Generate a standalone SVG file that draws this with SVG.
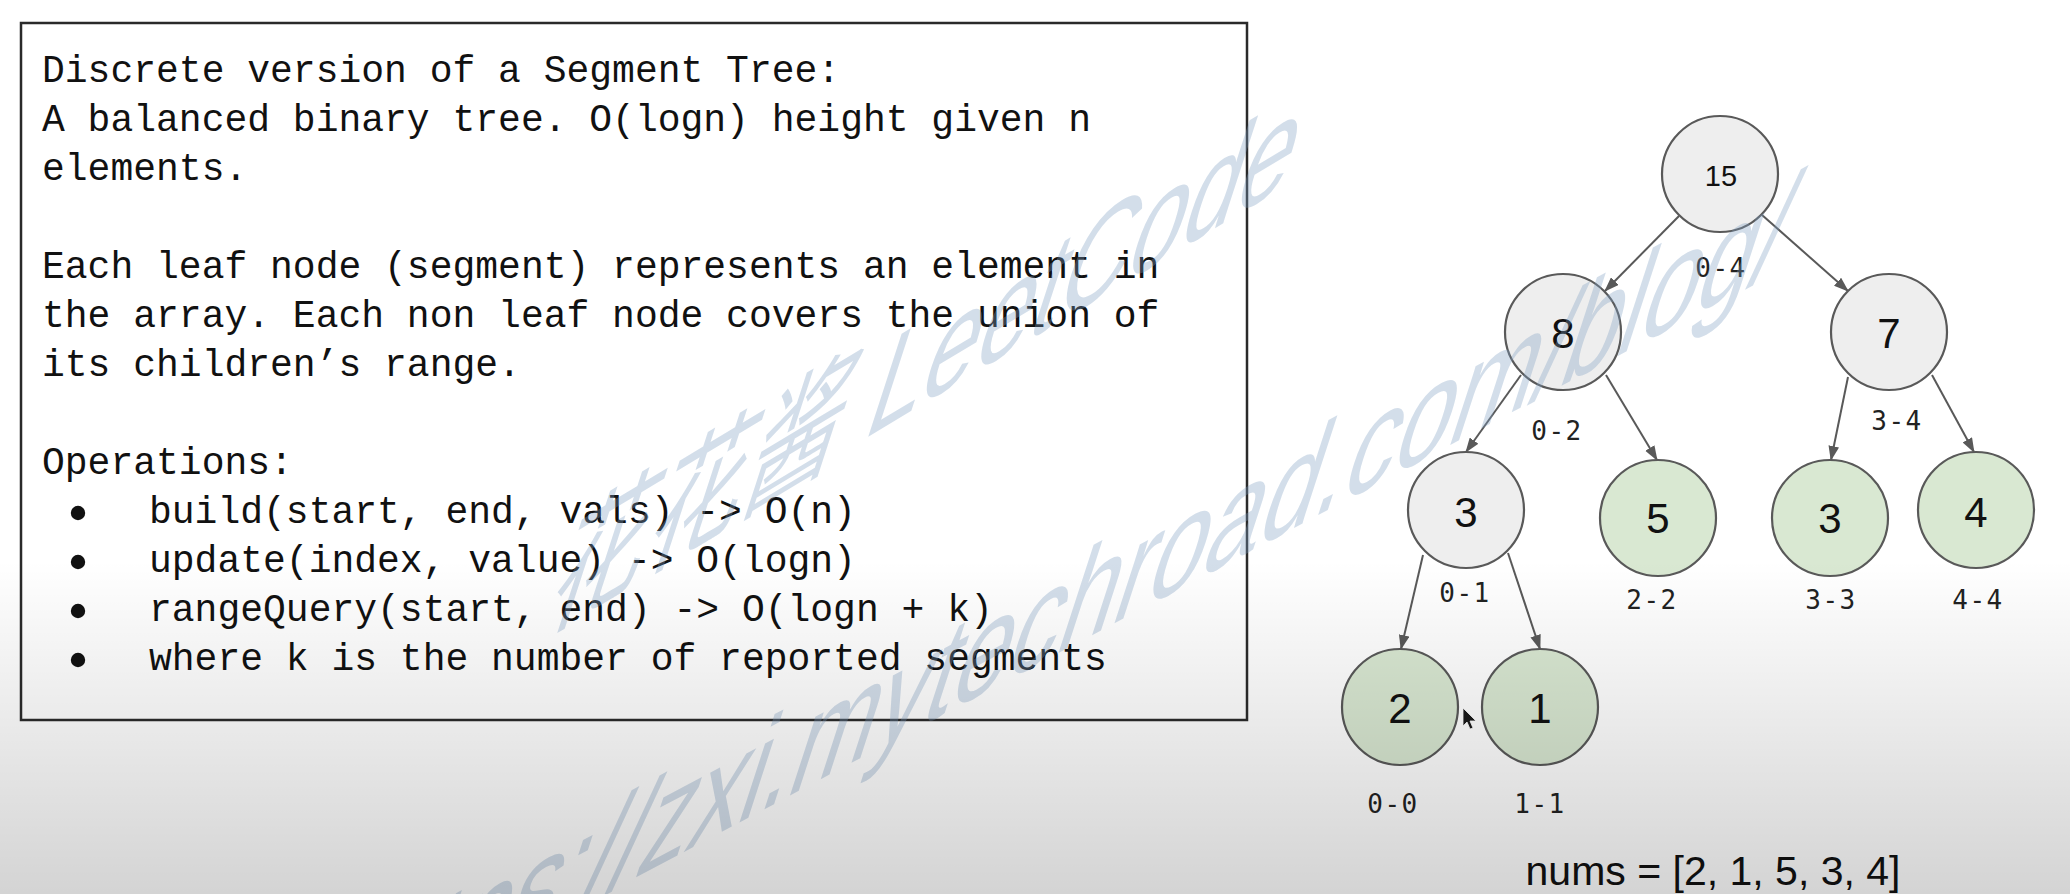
<svg xmlns="http://www.w3.org/2000/svg" width="2070" height="894" viewBox="0 0 2070 894">
  <style>
    .body { font-family: "Liberation Mono", "DejaVu Sans Mono", monospace; font-size: 38px; fill: #111; }
    .node circle { stroke: #595959; stroke-width: 2.2; }
    .inner { fill: #eeeeee; }
    .leaf { fill: #d9e8d2; }
    .num { font-family: "Liberation Sans", Arial, sans-serif; font-size: 42px; fill: #111; text-anchor: middle; }
    .range { font-family: "DejaVu Sans Mono", "Liberation Mono", monospace; font-size: 26px; fill: #222; text-anchor: middle; letter-spacing: 1.5px; }
    .edge { stroke: #595959; stroke-width: 2; fill: none; marker-end: url(#arrow); }
    .wm { font-family: "Liberation Sans", "Noto Sans CJK SC", sans-serif; font-size: 114px; fill: #7f9fc0; fill-opacity: 0.34; }
  </style>
  <defs>
    <marker id="arrow" viewBox="0 0 14 10" refX="13" refY="5" markerWidth="15" markerHeight="11" markerUnits="userSpaceOnUse" orient="auto">
      <path d="M0,0 L14,5 L0,10 Z" fill="#595959"/>
    </marker>
    <linearGradient id="shade" gradientUnits="userSpaceOnUse" x1="0" y1="560" x2="0" y2="894">
      <stop offset="0" stop-color="#000" stop-opacity="0"/>
      <stop offset="1" stop-color="#000" stop-opacity="0.17"/>
    </linearGradient>
  </defs>

  <rect width="2070" height="894" fill="#ffffff"/>

  <!-- description panel -->
  <g id="description">
    <rect x="21" y="23" width="1226" height="697" fill="#ffffff" stroke="#2a2a2a" stroke-width="2.5"/>
    <text class="body" x="42" y="82">Discrete version of a Segment Tree:</text>
    <text class="body" x="42" y="131">A balanced binary tree. O(logn) height given n</text>
    <text class="body" x="42" y="180">elements.</text>
    <text class="body" x="42" y="278">Each leaf node (segment) represents an element in</text>
    <text class="body" x="42" y="327">the array. Each non leaf node covers the union of</text>
    <text class="body" x="42" y="376">its children’s range.</text>
    <text class="body" x="42" y="474">Operations:</text>
    <g fill="#111">
      <circle cx="78" cy="513" r="7.2"/>
      <circle cx="78" cy="562" r="7.2"/>
      <circle cx="78" cy="611" r="7.2"/>
      <circle cx="78" cy="660" r="7.2"/>
    </g>
    <text class="body" x="149" y="523">build(start, end, vals) -&gt; O(n)</text>
    <text class="body" x="149" y="572">update(index, value) -&gt; O(logn)</text>
    <text class="body" x="149" y="621">rangeQuery(start, end) -&gt; O(logn + k)</text>
    <text class="body" x="149" y="670">where k is the number of reported segments</text>
  </g>

  <!-- tree connectors -->
  <g id="connectors">
    <path class="edge" d="M1679,216 L1605,291"/>
    <path class="edge" d="M1762,215 L1848,291"/>
    <path class="edge" d="M1521,375 L1466,452"/>
    <path class="edge" d="M1606,375 L1657,460"/>
    <path class="edge" d="M1848,377 L1831,460"/>
    <path class="edge" d="M1932,375 L1974,452"/>
    <path class="edge" d="M1423,555 L1401,649"/>
    <path class="edge" d="M1508,553 L1540,649"/>
  </g>

  <!-- tree nodes -->
  <g id="node-0-4" class="node">
    <circle class="inner" cx="1720" cy="174" r="58"/>
    <text class="num" x="1721" y="186" style="font-size:29px">15</text>
    <text class="range" x="1721" y="277">0-4</text>
  </g>
  <g id="node-0-2" class="node">
    <circle class="inner" cx="1563" cy="332" r="58"/>
    <text class="num" x="1563" y="348">8</text>
    <text class="range" x="1557" y="440">0-2</text>
  </g>
  <g id="node-3-4" class="node">
    <circle class="inner" cx="1889" cy="332" r="58"/>
    <text class="num" x="1889" y="348">7</text>
    <text class="range" x="1897" y="430">3-4</text>
  </g>
  <g id="node-0-1" class="node">
    <circle class="inner" cx="1466" cy="510" r="58"/>
    <text class="num" x="1466" y="527">3</text>
    <text class="range" x="1465" y="602">0-1</text>
  </g>
  <g id="node-2-2" class="node">
    <circle class="leaf" cx="1658" cy="518" r="58"/>
    <text class="num" x="1658" y="533">5</text>
    <text class="range" x="1652" y="609">2-2</text>
  </g>
  <g id="node-3-3" class="node">
    <circle class="leaf" cx="1830" cy="518" r="58"/>
    <text class="num" x="1830" y="533">3</text>
    <text class="range" x="1831" y="609">3-3</text>
  </g>
  <g id="node-4-4" class="node">
    <circle class="leaf" cx="1976" cy="510" r="58"/>
    <text class="num" x="1976" y="527">4</text>
    <text class="range" x="1978" y="609">4-4</text>
  </g>
  <g id="node-0-0" class="node">
    <circle class="leaf" cx="1400" cy="707" r="58"/>
    <text class="num" x="1400" y="723">2</text>
    <text class="range" x="1393" y="813">0-0</text>
  </g>
  <g id="node-1-1" class="node">
    <circle class="leaf" cx="1540" cy="707" r="58"/>
    <text class="num" x="1540" y="723">1</text>
    <text class="range" x="1540" y="813">1-1</text>
  </g>

  <g id="array-label">
    <text class="num" x="1713" y="885" style="font-size:41px">nums = [2, 1, 5, 3, 4]</text>
  </g>

  <!-- slanted site watermark -->
  <g id="watermark">
    <text class="wm" transform="matrix(0.857,-0.515,-0.426,1.312,540,634)">花花酱 LeetCode</text>
    <text class="wm" transform="matrix(0.883,-0.469,-0.426,1.312,330,1040)">https://zxi.mytechroad.com/blog/</text>
  </g>

  <!-- pointer -->
  <path d="M1463,708 L1463,726 L1467,722 L1470,729 L1473,728 L1470,721 L1476,721 Z" fill="#1a1a1a" stroke="#ffffff" stroke-width="0.8"/>

  <rect width="2070" height="894" fill="url(#shade)" pointer-events="none"/>
</svg>
